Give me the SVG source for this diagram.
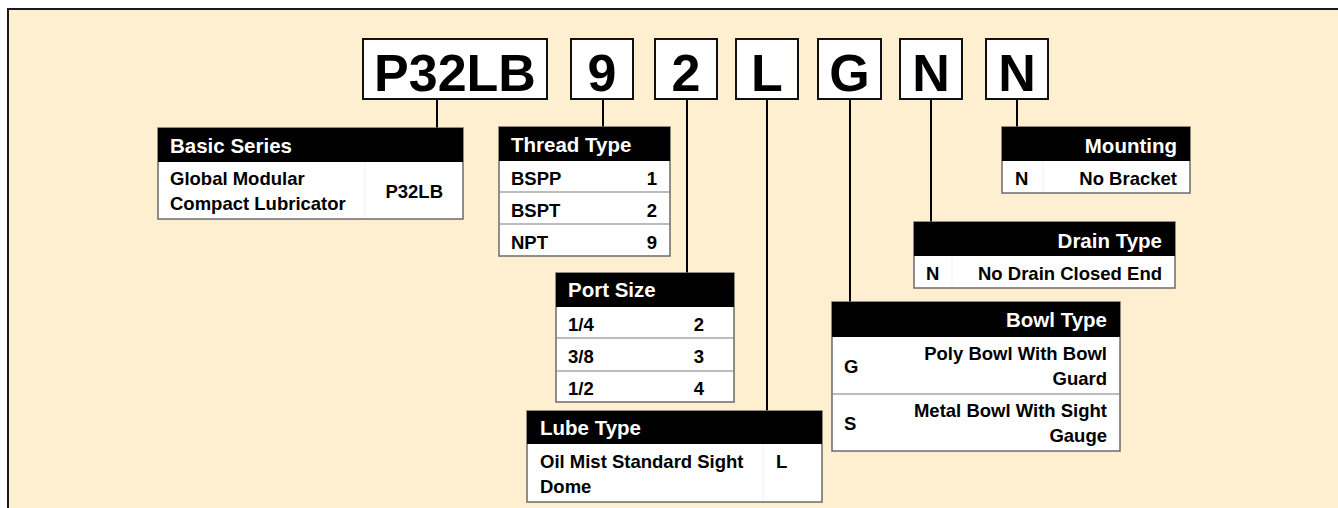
<svg xmlns="http://www.w3.org/2000/svg" width="1338" height="508" viewBox="0 0 1338 508">
<style>
.t{font-family:"Liberation Sans",Arial,Helvetica,sans-serif;font-weight:bold;}
.code{font-size:52px;fill:#000;text-anchor:middle;}
.hd{font-size:20.5px;fill:#fff;}
.bd{font-size:18.5px;fill:#000;}
.r{text-anchor:end;}
.cbox{fill:#fff;stroke:#111;stroke-width:2;}
.tbox{fill:#fff;stroke:#6b6b6b;stroke-width:1.5;}
.hdr{fill:#000;}
.sep{stroke:#7a7a7a;stroke-width:1.2;}
.div{stroke:#f1f1f1;stroke-width:1;}
.con{stroke:#000;stroke-width:2;fill:none;}
</style>
<rect x="8" y="9" width="1345" height="515" fill="#FEEFD0" stroke="#1a1a1a" stroke-width="2"/>

<g id="connectors">
<line class="con" x1="437" y1="99" x2="437" y2="128"/>
<line class="con" x1="603" y1="99" x2="603" y2="127"/>
<line class="con" x1="687" y1="99" x2="687" y2="273"/>
<line class="con" x1="767" y1="99" x2="767" y2="411"/>
<line class="con" x1="850" y1="99" x2="850" y2="302"/>
<line class="con" x1="931" y1="99" x2="931" y2="222"/>
<line class="con" x1="1017" y1="99" x2="1017" y2="127"/>
</g>

<g id="code-P32LB"><rect class="cbox" x="363" y="39" width="184" height="60"/><text class="t code" x="455" y="91">P32LB</text></g>
<g id="code-9"><rect class="cbox" x="571" y="39" width="62" height="60"/><text class="t code" x="602" y="91">9</text></g>
<g id="code-2"><rect class="cbox" x="655" y="39" width="62" height="60"/><text class="t code" x="686" y="91">2</text></g>
<g id="code-L"><rect class="cbox" x="736" y="39" width="62" height="60"/><text class="t code" x="767" y="91">L</text></g>
<g id="code-G"><rect class="cbox" x="818" y="39" width="63" height="60"/><text class="t code" x="849.5" y="91">G</text></g>
<g id="code-N1"><rect class="cbox" x="900" y="39" width="62" height="60"/><text class="t code" x="931" y="91">N</text></g>
<g id="code-N2"><rect class="cbox" x="986" y="39" width="62" height="60"/><text class="t code" x="1017" y="91">N</text></g>

<g id="basic-series">
<rect class="tbox" x="158" y="128" width="305" height="91"/>
<rect class="hdr" x="158" y="128" width="305" height="34"/>
<line class="div" x1="365" y1="162" x2="365" y2="218"/>
<text class="t hd" x="170" y="153">Basic Series</text>
<text class="t bd" x="170" y="185">Global Modular</text>
<text class="t bd" x="170" y="210">Compact Lubricator</text>
<text class="t bd r" x="443" y="198">P32LB</text>
</g>

<g id="thread-type">
<rect class="tbox" x="499" y="127" width="171" height="129"/>
<rect class="hdr" x="499" y="127" width="171" height="34"/>
<line class="sep" x1="499" y1="192" x2="670" y2="192"/>
<line class="sep" x1="499" y1="224" x2="670" y2="224"/>
<text class="t hd" x="511" y="152">Thread Type</text>
<text class="t bd" x="511" y="185">BSPP</text>
<text class="t bd r" x="657" y="185">1</text>
<text class="t bd" x="511" y="217">BSPT</text>
<text class="t bd r" x="657" y="217">2</text>
<text class="t bd" x="511" y="249">NPT</text>
<text class="t bd r" x="657" y="249">9</text>
</g>

<g id="port-size">
<rect class="tbox" x="556" y="273" width="178" height="129"/>
<rect class="hdr" x="556" y="273" width="178" height="34"/>
<line class="sep" x1="556" y1="338" x2="734" y2="338"/>
<line class="sep" x1="556" y1="371" x2="734" y2="371"/>
<text class="t hd" x="568" y="297">Port Size</text>
<text class="t bd" x="568" y="331">1/4</text>
<text class="t bd r" x="704" y="331">2</text>
<text class="t bd" x="568" y="363">3/8</text>
<text class="t bd r" x="704" y="363">3</text>
<text class="t bd" x="568" y="395">1/2</text>
<text class="t bd r" x="704" y="395">4</text>
</g>

<g id="lube-type">
<rect class="tbox" x="527" y="411" width="295" height="91"/>
<rect class="hdr" x="527" y="411" width="295" height="33"/>
<line class="div" x1="763" y1="444" x2="763" y2="501"/>
<text class="t hd" x="540" y="435">Lube Type</text>
<text class="t bd" x="540" y="468">Oil Mist Standard Sight</text>
<text class="t bd" x="540" y="493">Dome</text>
<text class="t bd" x="776" y="468">L</text>
</g>

<g id="bowl-type">
<rect class="tbox" x="832" y="302" width="288" height="149"/>
<rect class="hdr" x="832" y="302" width="288" height="35"/>
<line class="sep" x1="832" y1="394" x2="1120" y2="394"/>
<text class="t hd r" x="1107" y="327">Bowl Type</text>
<text class="t bd" x="844" y="373">G</text>
<text class="t bd r" x="1107" y="360">Poly Bowl With Bowl</text>
<text class="t bd r" x="1107" y="385">Guard</text>
<text class="t bd" x="844" y="430">S</text>
<text class="t bd r" x="1107" y="417">Metal Bowl With Sight</text>
<text class="t bd r" x="1107" y="442">Gauge</text>
</g>

<g id="drain-type">
<rect class="tbox" x="914" y="222" width="261" height="66"/>
<rect class="hdr" x="914" y="222" width="261" height="34"/>
<line class="div" x1="952" y1="256" x2="952" y2="287"/>
<text class="t hd r" x="1162" y="248">Drain Type</text>
<text class="t bd" x="926" y="280">N</text>
<text class="t bd r" x="1162" y="280">No Drain Closed End</text>
</g>

<g id="mounting">
<rect class="tbox" x="1002" y="127" width="188" height="66"/>
<rect class="hdr" x="1002" y="127" width="188" height="34"/>
<line class="div" x1="1043" y1="161" x2="1043" y2="192"/>
<text class="t hd r" x="1177" y="153">Mounting</text>
<text class="t bd" x="1015" y="185">N</text>
<text class="t bd r" x="1177" y="185">No Bracket</text>
</g>
</svg>
